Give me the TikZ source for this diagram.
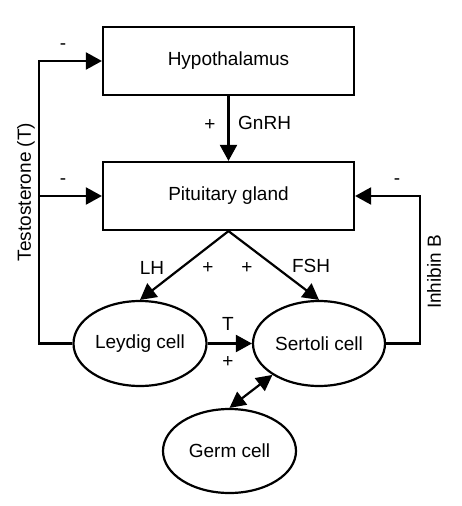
\documentclass[tikz,border=0pt]{standalone}
\usepackage{fontspec}
\setmainfont{Liberation Sans}
\usetikzlibrary{arrows.meta,shapes.geometric}
\begin{document}
\begin{tikzpicture}[x=1pt,y=-1pt,
  every node/.style={font=\fontsize{19}{22}\selectfont, inner sep=0pt},
  boxnode/.style={draw, line width=2.2pt, minimum width=251pt, minimum height=68pt},
  cellnode/.style={draw, ellipse, line width=2.2pt, minimum width=133pt, minimum height=85pt},
  conn/.style={line width=2.2pt},
  arr/.style={conn, -{Triangle[length=16pt,width=17pt]}},
  dblarr/.style={conn, {Triangle[length=16pt,width=16pt]}-{Triangle[length=16pt,width=16pt]}}
]
\useasboundingbox (0,0) rectangle (462,506);
\node[boxnode] (hyp) at (228.5,61) {Hypothalamus};
\node[boxnode] (pit) at (228.5,196) {Pituitary gland};
\node[cellnode] (ley) at (140,343.5) {Leydig cell};
\node[cellnode, minimum width=132pt] (ser) at (319,343.5) {Sertoli cell};
\node[cellnode, minimum height=84pt] (germ) at (229.5,451) {Germ cell};

\coordinate (tc) at (39,61);
\coordinate (tb) at (39,196);
\coordinate (ic) at (420,196);

\draw[arr] (hyp.south) -- (pit.north);
\draw[arr] (ley.west) -| (tc) -- (hyp.west);
\draw[arr] (tb) -- (pit.west);
\draw[arr] (ser.east) -| (ic) -- (pit.east);
\draw[arr] (pit.south) -- (ley.north);
\draw[arr] (pit.south) -- (ser.north);
\draw[arr] (ley.east) -- (ser.west);
\draw[dblarr] (germ.north) -- (ser.214);

\node (m1) at (63,47) {-};
\node (m2) at (63,182) {-};
\node (m3) at (397,182) {-};
\node (p1) at (210,125) {+};
\node[anchor=west] (gnrh) at (238,123) {GnRH};
\node (lh) at (152,268) {LH};
\node (p2) at (208,268) {+};
\node (p3) at (247,268) {+};
\node (fsh) at (311,266) {FSH};
\node (tt) at (228,324) {T};
\node (p4) at (228,362) {+};
\node[rotate=90] (testo) at (26,192) {Testosterone (T)};
\node[rotate=90] (inh) at (434,272) {Inhibin B};
\end{tikzpicture}
\end{document}
